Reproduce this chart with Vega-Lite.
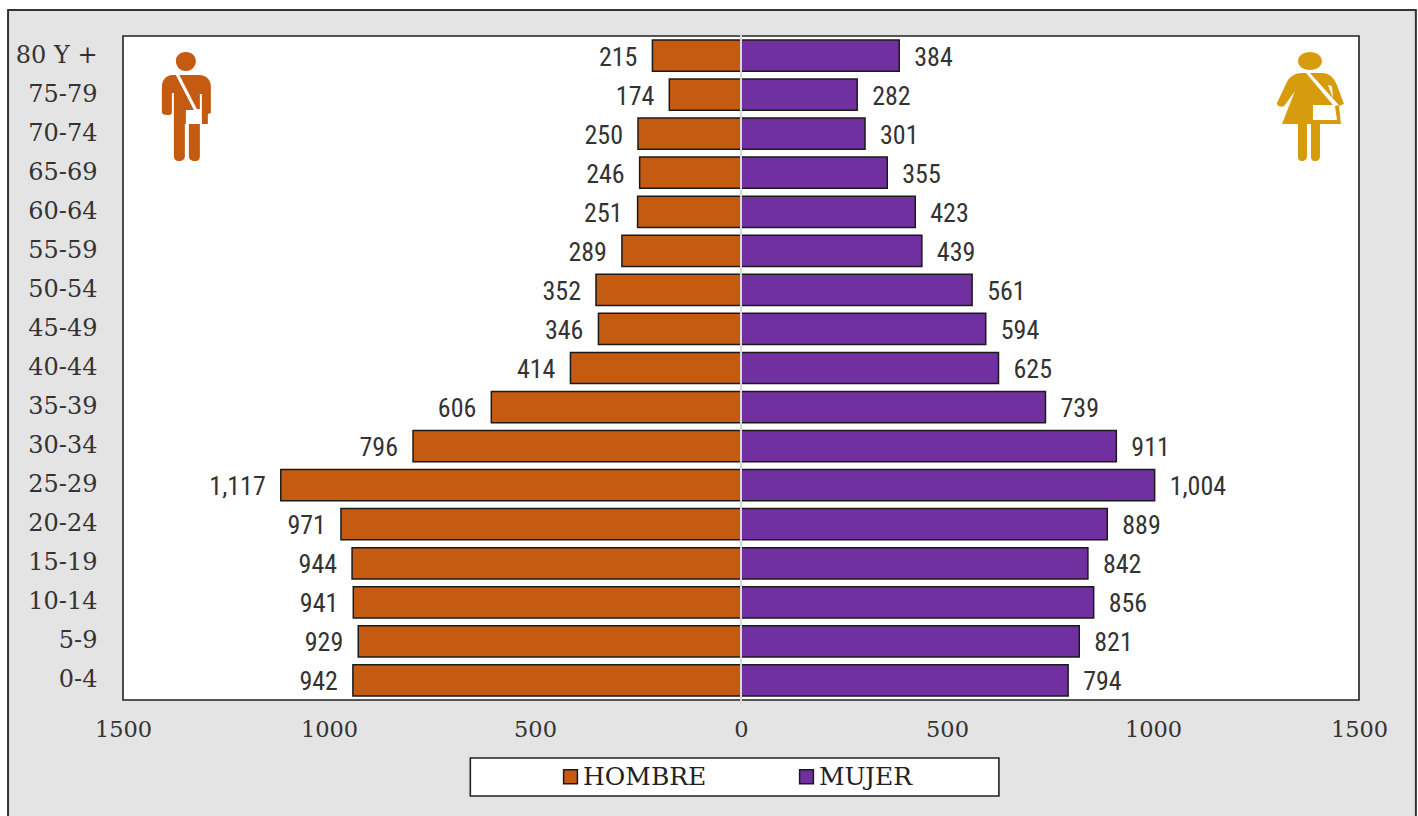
{
  "$schema": "https://vega.github.io/schema/vega-lite/v6.json",
  "width": 1236,
  "height": 664,
  "autosize": {"type": "none"},
  "padding": {"left": 123, "top": 36, "right": 59, "bottom": 116},
  "background": "#ffffff",
  "view": {"stroke": null},
  "config": {"font": "DejaVu Serif"},
  "datasets": {
    "piramide": [
      {"edad": "80 Y +", "sexo": "HOMBRE", "poblacion": 215, "posicion": -215},
      {"edad": "75-79", "sexo": "HOMBRE", "poblacion": 174, "posicion": -174},
      {"edad": "70-74", "sexo": "HOMBRE", "poblacion": 250, "posicion": -250},
      {"edad": "65-69", "sexo": "HOMBRE", "poblacion": 246, "posicion": -246},
      {"edad": "60-64", "sexo": "HOMBRE", "poblacion": 251, "posicion": -251},
      {"edad": "55-59", "sexo": "HOMBRE", "poblacion": 289, "posicion": -289},
      {"edad": "50-54", "sexo": "HOMBRE", "poblacion": 352, "posicion": -352},
      {"edad": "45-49", "sexo": "HOMBRE", "poblacion": 346, "posicion": -346},
      {"edad": "40-44", "sexo": "HOMBRE", "poblacion": 414, "posicion": -414},
      {"edad": "35-39", "sexo": "HOMBRE", "poblacion": 606, "posicion": -606},
      {"edad": "30-34", "sexo": "HOMBRE", "poblacion": 796, "posicion": -796},
      {"edad": "25-29", "sexo": "HOMBRE", "poblacion": 1117, "posicion": -1117},
      {"edad": "20-24", "sexo": "HOMBRE", "poblacion": 971, "posicion": -971},
      {"edad": "15-19", "sexo": "HOMBRE", "poblacion": 944, "posicion": -944},
      {"edad": "10-14", "sexo": "HOMBRE", "poblacion": 941, "posicion": -941},
      {"edad": "5-9", "sexo": "HOMBRE", "poblacion": 929, "posicion": -929},
      {"edad": "0-4", "sexo": "HOMBRE", "poblacion": 942, "posicion": -942},
      {"edad": "80 Y +", "sexo": "MUJER", "poblacion": 384, "posicion": 384},
      {"edad": "75-79", "sexo": "MUJER", "poblacion": 282, "posicion": 282},
      {"edad": "70-74", "sexo": "MUJER", "poblacion": 301, "posicion": 301},
      {"edad": "65-69", "sexo": "MUJER", "poblacion": 355, "posicion": 355},
      {"edad": "60-64", "sexo": "MUJER", "poblacion": 423, "posicion": 423},
      {"edad": "55-59", "sexo": "MUJER", "poblacion": 439, "posicion": 439},
      {"edad": "50-54", "sexo": "MUJER", "poblacion": 561, "posicion": 561},
      {"edad": "45-49", "sexo": "MUJER", "poblacion": 594, "posicion": 594},
      {"edad": "40-44", "sexo": "MUJER", "poblacion": 625, "posicion": 625},
      {"edad": "35-39", "sexo": "MUJER", "poblacion": 739, "posicion": 739},
      {"edad": "30-34", "sexo": "MUJER", "poblacion": 911, "posicion": 911},
      {"edad": "25-29", "sexo": "MUJER", "poblacion": 1004, "posicion": 1004},
      {"edad": "20-24", "sexo": "MUJER", "poblacion": 889, "posicion": 889},
      {"edad": "15-19", "sexo": "MUJER", "poblacion": 842, "posicion": 842},
      {"edad": "10-14", "sexo": "MUJER", "poblacion": 856, "posicion": 856},
      {"edad": "5-9", "sexo": "MUJER", "poblacion": 821, "posicion": 821},
      {"edad": "0-4", "sexo": "MUJER", "poblacion": 794, "posicion": 794}
    ],
    "marco": [{"parte": "marco"}]
  },
  "layer": [
    {
      "data": {"name": "marco"},
      "mark": {"type": "rect", "fill": "#e4e4e4", "stroke": "#333333", "strokeWidth": 2},
      "encoding": {
        "x": {"datum": -1779, "type": "quantitative", "scale": {"domain": [-1500, 1500], "nice": false}},
        "x2": {"datum": 1638},
        "y": {"value": -26},
        "y2": {"value": 800}
      }
    },
    {
      "data": {"name": "marco"},
      "mark": {"type": "rect", "fill": "#ffffff", "stroke": "#222222", "strokeWidth": 1.6},
      "encoding": {
        "x": {"datum": -1500, "type": "quantitative"},
        "x2": {"datum": 1500},
        "y": {"value": 0},
        "y2": {"value": 664}
      }
    },
    {
      "data": {"name": "marco"},
      "mark": {"type": "rect", "fill": "#ffffff", "stroke": "#222222", "strokeWidth": 1.6},
      "encoding": {
        "x": {"datum": -657, "type": "quantitative"},
        "x2": {"datum": 626},
        "y": {"value": 722},
        "y2": {"value": 760}
      }
    },
    {
      "data": {"name": "piramide"},
      "mark": {"type": "bar", "stroke": "#1a1a1a", "strokeWidth": 1.5},
      "encoding": {
        "y": {
          "field": "edad",
          "type": "nominal",
          "sort": null,
          "scale": {"paddingInner": 0.2, "paddingOuter": 0.1},
          "axis": {
            "title": null,
            "domain": false,
            "ticks": false,
            "labelFont": "DejaVu Serif",
            "labelFontSize": 24,
            "labelColor": "#333333",
            "labelPadding": 26,
            "labelAlign": "right",
            "zindex": 1
          }
        },
        "x": {
          "field": "posicion",
          "type": "quantitative",
          "axis": {
            "title": null,
            "grid": false,
            "domain": false,
            "ticks": false,
            "values": [-1500, -1000, -500, 0, 500, 1000, 1500],
            "labelExpr": "abs(datum.value)",
            "labelFlush": false,
            "labelOverlap": false,
            "labelFont": "DejaVu Serif",
            "labelFontSize": 22.5,
            "labelColor": "#333333",
            "labelPadding": 18,
            "zindex": 1
          }
        },
        "x2": {"datum": 0},
        "fill": {
          "field": "sexo",
          "type": "nominal",
          "scale": {"domain": ["HOMBRE", "MUJER"], "range": ["#c55a11", "#7030a0"]},
          "legend": {
            "title": null,
            "orient": "none",
            "legendX": 435,
            "legendY": 728,
            "direction": "horizontal",
            "columns": 2,
            "columnPadding": 87,
            "symbolType": "square",
            "symbolSize": 190,
            "symbolStrokeColor": "#1a1a1a",
            "symbolStrokeWidth": 1.5,
            "labelFont": "DejaVu Serif",
            "labelFontSize": 25,
            "labelColor": "#222222",
            "labelOffset": 0,
            "zindex": 1
          }
        }
      }
    },
    {
      "data": {"name": "marco"},
      "mark": {"type": "rule", "stroke": "#d8d8d8", "strokeWidth": 2},
      "encoding": {"x": {"datum": 0, "type": "quantitative"}, "y": {"value": -3}, "y2": {"value": 668}}
    },
    {
      "data": {"name": "piramide"},
      "transform": [{"filter": "datum.sexo === 'HOMBRE'"}],
      "mark": {"type": "text", "align": "right", "dx": -15, "dy": 2, "font": "Roboto Condensed, DejaVu Sans Condensed, Liberation Sans", "fontSize": 26, "fill": "#333333"},
      "encoding": {
        "x": {"field": "posicion", "type": "quantitative"},
        "y": {"field": "edad", "type": "nominal", "sort": null},
        "text": {"field": "poblacion", "type": "quantitative", "format": ","}
      }
    },
    {
      "data": {"name": "piramide"},
      "transform": [{"filter": "datum.sexo === 'MUJER'"}],
      "mark": {"type": "text", "align": "left", "dx": 15, "dy": 2, "font": "Roboto Condensed, DejaVu Sans Condensed, Liberation Sans", "fontSize": 26, "fill": "#333333"},
      "encoding": {
        "x": {"field": "posicion", "type": "quantitative"},
        "y": {"field": "edad", "type": "nominal", "sort": null},
        "text": {"field": "poblacion", "type": "quantitative", "format": ","}
      }
    },
    {
      "data": {"name": "marco"},
      "mark": {
        "type": "point",
        "filled": true,
        "opacity": 1,
        "size": 4,
        "fill": "#c55a11",
        "shape": "M-1 -54 C5 -54 9 -50 9 -45 C9 -40 5 -35 -1 -35 C-7 -35 -11 -40 -11 -45 C-11 -50 -7 -54 -1 -54 Z M-14 -31 L12 -31 C20 -31 24 -26 24 -19 L24 7 L21 8 L21 18 L13 18 L13 50 C13 55 10 55 8 55 C4 55 2 53 2 50 L2 18 L-2 18 L-2 50 C-2 53 -4 55 -8 55 C-11 55 -13 53 -13 50 L-13 -8 L-15 -8 L-15 6 C-15 9 -17 9 -20 9 C-23 9 -25 8 -25 6 L-25 -19 C-25 -26 -21 -31 -14 -31 Z"
      },
      "encoding": {
        "x": {"datum": -1345, "type": "quantitative"},
        "y": {"value": 70}
      }
    },
    {
      "data": {"name": "marco"},
      "mark": {
        "type": "point",
        "filled": true,
        "opacity": 1,
        "size": 4,
        "fill": "#ffffff",
        "shape": "M-11 -31 L-8 -32 L10 3 L13 3 L13 -12 L15 -12 L15 18 L-1 18 L-1 4 L7 4 Z M-15 -13 L-13 -13 L-13 -8 L-15 -8 Z"
      },
      "encoding": {
        "x": {"datum": -1345, "type": "quantitative"},
        "y": {"value": 70}
      }
    },
    {
      "data": {"name": "marco"},
      "mark": {
        "type": "point",
        "filled": true,
        "opacity": 1,
        "size": 4,
        "fill": "#d79b0e",
        "shape": "M0 -54 C7 -54 12 -50 12 -45 C12 -40 7 -36 0 -36 C-7 -36 -12 -40 -12 -45 C-12 -50 -7 -54 0 -54 Z M-8 -33 L12 -33 C20 -33 24 -28 27 -21 L34 -2 L29 0 L31 18 L10 18 L10 50 C10 54 8 55 5 55 C2 55 1 53 1 50 L1 18 L-3 18 L-3 50 C-3 53 -5 55 -8 55 C-11 55 -12 53 -12 50 L-12 18 L-28 18 L-15 -15 L-25 -1 C-27 2 -34 0 -33 -3 L-24 -22 C-21 -29 -16 -33 -8 -33 Z"
      },
      "encoding": {
        "x": {"datum": 1381, "type": "quantitative"},
        "y": {"value": 70}
      }
    },
    {
      "data": {"name": "marco"},
      "mark": {
        "type": "point",
        "filled": true,
        "opacity": 1,
        "size": 4,
        "fill": "#ffffff",
        "shape": "M-4 -33 L0 -33 L27 -3 L29 -1 L25 0 L27 14 L3 14 L3 -1 L23 -1 Z M18 -21 L22 -20 L23 -8 Z"
      },
      "encoding": {
        "x": {"datum": 1381, "type": "quantitative"},
        "y": {"value": 70}
      }
    }
  ]
}
